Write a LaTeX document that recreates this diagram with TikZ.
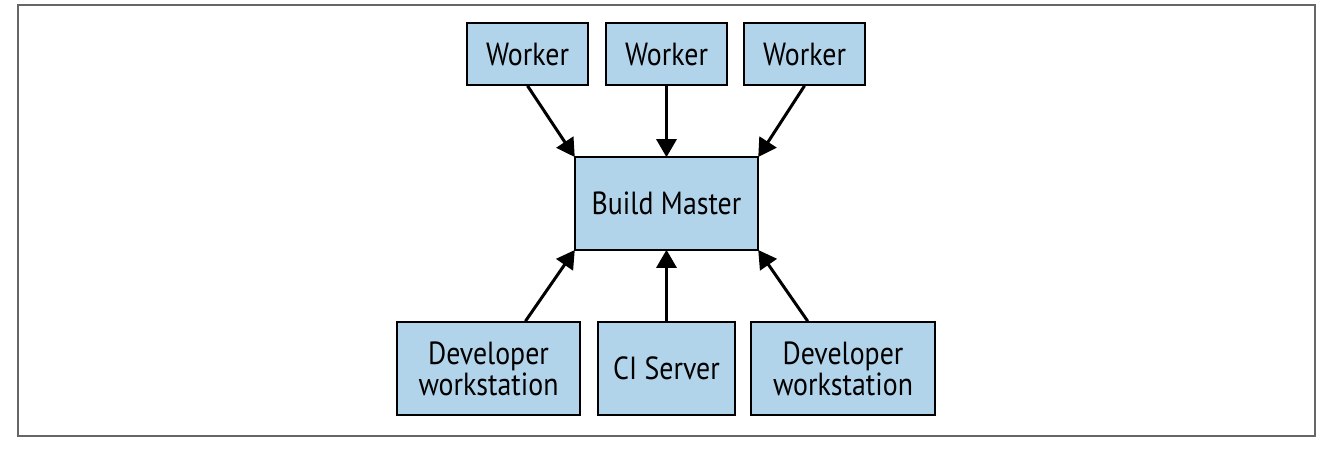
\documentclass[tikz,border=0pt]{standalone}
\usepackage{fontspec}
\setmainfont{PT Sans}[FakeStretch=0.87]
\usetikzlibrary{arrows.meta,calc}
\definecolor{boxblue}{RGB}{178,212,234}
\tikzset{
  box/.style={draw=black, line width=1.6pt, fill=boxblue, inner sep=0pt, align=center,
    font=\fontsize{32}{31}\selectfont},
  conn/.style={line width=3pt, -{Triangle[length=18pt,width=20pt]}, shorten >=-1pt},
}
\begin{document}
\begin{tikzpicture}[x=1pt,y=-1pt]
\useasboundingbox (0,0) rectangle (1320,448);
\draw[gray!80!black, line width=1.6pt] (18,5) rectangle (1315,436);
\node[box, minimum width=121pt, minimum height=62pt] (w1) at (527.5,54) {Worker};
\node[box, minimum width=121pt, minimum height=62pt] (w2) at (666.5,54) {Worker};
\node[box, minimum width=121pt, minimum height=62pt] (w3) at (804.5,54) {Worker};
\node[box, minimum width=183pt, minimum height=93pt] (bm) at (666.5,203.5) {Build Master};
\node[box, minimum width=183pt, minimum height=93pt] (d1) at (488.5,368.5) {Developer\\workstation};
\node[box, minimum width=137pt, minimum height=93pt] (ci) at (666.5,368.5) {CI Server};
\node[box, minimum width=184pt, minimum height=93pt] (d2) at (843,368.5) {Developer\\workstation};
\draw[conn] (w1.south) -- (bm.north west);
\draw[conn] (w2.south) -- (bm.north);
\draw[conn] (w3.south) -- (bm.north east);
\draw[conn] ($(d1.north west)!0.7!(d1.north east)$) -- (bm.south west);
\draw[conn] (ci.north) -- (bm.south);
\draw[conn] ($(d2.north west)!0.31!(d2.north east)$) -- (bm.south east);
\end{tikzpicture}
\end{document}
